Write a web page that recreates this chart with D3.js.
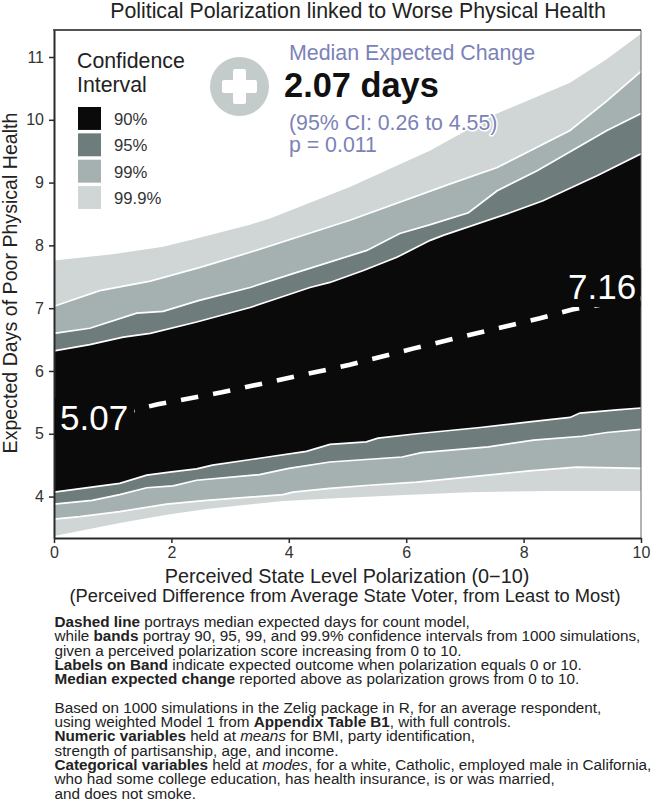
<!DOCTYPE html>
<html>
<head>
<meta charset="utf-8">
<script src="https://cdn.jsdelivr.net/npm/d3@7"></script>
<style>
  html, body { margin: 0; padding: 0; background: #fff; }
  text { font-family: "Liberation Sans", Arial, sans-serif; }
</style>
</head>
<body>
<div id="chart"></div>
<script>
// band edges, as [polarization, expected days]
const upper999 = [[0,7.76],[1,7.86],[1.86,7.98],[2.43,8.11],[3.34,8.33],[3.68,8.43],[5.04,8.93],[6.41,9.51],[7.55,10.1],[8.79,10.59],[9.42,10.97],[10,11.37]];
const upper99 = [[0,7.03],[0.78,7.28],[1.64,7.43],[2.49,7.65],[3.34,7.89],[5.04,8.4],[6.75,8.98],[7.55,9.24],[8.79,9.83],[9.42,10.3],[10,10.77]];
const upper95 = [[0,6.6],[0.61,6.68],[1.41,6.92],[1.86,6.95],[2.46,7.12],[3.34,7.33],[4.07,7.55],[5.33,7.92],[5.89,8.19],[6.41,8.33],[7.06,8.52],[7.55,8.87],[8.23,9.19],[9.42,9.83],[10,10.1]];
const upper90 = [[0,6.32],[0.61,6.42],[1.18,6.54],[1.64,6.6],[2.43,6.78],[3.34,7.01],[3.85,7.17],[4.36,7.33],[4.7,7.41],[5.27,7.6],[5.84,7.81],[6.41,8.08],[6.63,8.16],[7.77,8.52],[8.33,8.71],[9.25,9.11],[10,9.46]];
const lower90 = [[0,4.07],[1.12,4.21],[1.58,4.34],[1.97,4.39],[2.43,4.44],[2.7,4.5],[3.5,4.61],[4.3,4.72],[4.7,4.83],[5.32,4.87],[5.52,4.93],[6.18,5],[7.26,5.1],[8.1,5.19],[8.79,5.26],[8.96,5.33],[9.59,5.38],[10,5.41]];
const lower95 = [[0,3.88],[0.65,3.94],[1.12,4.03],[1.58,4.14],[2.03,4.17],[2.43,4.26],[3.5,4.35],[4,4.45],[4.7,4.55],[5.93,4.63],[6.26,4.7],[7.4,4.79],[8.17,4.9],[9,4.96],[9.42,5.02],[10,5.07]];
const lower99 = [[0,3.64],[0.44,3.68],[1.12,3.76],[1.92,3.88],[2.6,3.94],[3.9,4.03],[4.07,4.07],[4.7,4.13],[5.37,4.18],[6.18,4.23],[7.26,4.33],[8.1,4.41],[8.9,4.47],[10,4.45]];
const lower999 = [[0,3.37],[1.12,3.58],[1.92,3.71],[2.6,3.8],[3.9,3.93],[4.7,3.97],[5.88,4.02],[7.06,4.07],[8.45,4.09],[10,4.09]];
const median = [[0,5.07],[1.77,5.47],[2.86,5.66],[3.95,5.88],[5.04,6.1],[6.13,6.36],[7.2,6.6],[8.28,6.84],[8.83,6.98],[10,7.16]];

const bandLabels = ["99.9%", "99%", "95%", "90%"];
const bandColors = ["#cfd6d5", "#a5b1b0", "#6f7c7c", "#0a0a0a"];
const bandUppers = [upper999, upper99, upper95, upper90];
const bandLowers = [lower999, lower99, lower95, lower90];
const xTicks = [0, 2, 4, 6, 8, 10];
const yTicks = [4, 5, 6, 7, 8, 9, 10, 11];

const notes = [
  [["Dashed line", "b"], [" portrays median expected days for count model,"]],
  [["while "], ["bands", "b"], [" portray 90, 95, 99, and 99.9% confidence intervals from 1000 simulations,"]],
  [["given a perceived polarization score increasing from 0 to 10."]],
  [["Labels on Band", "b"], [" indicate expected outcome when polarization equals 0 or 10."]],
  [["Median expected change", "b"], [" reported above as polarization grows from 0 to 10."]],
  [],
  [["Based on 1000 simulations in the Zelig package in R, for an average respondent,"]],
  [["using weighted Model 1 from "], ["Appendix Table B1", "b"], [", with full controls."]],
  [["Numeric variables", "b"], [" held at "], ["means", "i"], [" for BMI, party identification,"]],
  [["strength of partisanship, age, and income."]],
  [["Categorical variables", "b"], [" held at "], ["modes", "i"], [", for a white, Catholic, employed male in California,"]],
  [["who had some college education, has health insurance, is or was married,"]],
  [["and does not smoke."]]
];

const width = 652;
const height = 802;
const margin = {top: 30, bottom: 264, left: 54, right: 11};
const lavender = "#7b82b8";

const svg = d3.select("#chart")
  .append("svg")
  .attr("width", width)
  .attr("height", height)
  .style("display", "block");

const x = d3.scaleLinear()
  .domain([0, 10])
  .range([margin.left, width - margin.right]);

const y = d3.scaleLinear()
  .domain([3.34, 11.43])
  .range([height - margin.bottom, margin.top]);

const line = d3.line().x(d => x(d[0])).y(d => y(d[1]));

svg.append("clipPath").attr("id", "plot")
  .append("rect")
  .attr("x", x(0)).attr("y", y(11.43))
  .attr("width", x(10) - x(0)).attr("height", y(3.34) - y(11.43));

const plot = svg.append("g").attr("clip-path", "url(#plot)");

// outer bands first, inner ones paint over them
bandColors.forEach((c, i) => {
  plot.append("path")
    .attr("d", line(bandUppers[i].concat(bandLowers[i].slice().reverse())) + "Z")
    .attr("fill", c);
});

// white edges, the outermost band has none
[upper99, upper95, upper90, lower90, lower95, lower99].forEach(d => {
  plot.append("path")
    .attr("d", line(d))
    .attr("fill", "none")
    .attr("stroke", "#fff")
    .attr("stroke-width", 1.7);
});

plot.append("path")
  .attr("d", line(median))
  .attr("fill", "none")
  .attr("stroke", "#fff")
  .attr("stroke-width", 4.6)
  .attr("stroke-dasharray", "17.5 15.1");

// frame
svg.append("path")
  .attr("d", `M${x(0)},${y(11.43)}H${x(10)}V${y(3.34)}`)
  .attr("fill", "none")
  .attr("stroke", "#666")
  .attr("stroke-width", 1);
svg.append("line")
  .attr("x1", x(0) - 1).attr("x2", x(10)).attr("y1", y(11.43)).attr("y2", y(11.43))
  .attr("stroke", "#333").attr("stroke-width", 1.5);

function styleAxis(g) {
  g.selectAll(".domain").attr("stroke", "#2a2a2a").attr("stroke-width", 2);
  g.selectAll(".tick line").attr("stroke", "#2a2a2a").attr("stroke-width", 1.5);
  g.selectAll(".tick text").attr("fill", "#333").style("font-size", "16px")
    .style("font-family", '"Liberation Sans", Arial, sans-serif');
}

svg.append("g")
  .attr("transform", `translate(${x(0)},0)`)
  .call(d3.axisLeft(y).tickValues(yTicks).tickFormat(d3.format("d")).tickSize(5).tickSizeOuter(0).tickPadding(5))
  .call(styleAxis);

svg.append("g")
  .attr("transform", `translate(0,${y(3.34)})`)
  .call(d3.axisBottom(x).tickValues(xTicks).tickFormat(d3.format("d")).tickSize(5).tickSizeOuter(0).tickPadding(4))
  .call(styleAxis);

// end labels sit on a black patch that hides the start and end of the dashes
function endLabel(label, px, py, patch) {
  svg.append("rect")
    .attr("x", patch[0]).attr("y", patch[1])
    .attr("width", patch[2]).attr("height", patch[3])
    .attr("fill", "#0a0a0a");
  svg.append("text")
    .attr("x", px).attr("y", py)
    .attr("font-size", 35)
    .attr("fill", "#fff")
    .text(label);
}
endLabel("5.07", 60, 430, [x(0) + 1, 398, 79, 42]);
endLabel("7.16", 568, 299, [566, 268, x(10) - 566.5, 39]);

// titles
svg.append("text").attr("x", 358).attr("y", 17.5).attr("text-anchor", "middle")
  .attr("font-size", 21.3).attr("fill", "#222")
  .text("Political Polarization linked to Worse Physical Health");

svg.append("text")
  .attr("transform", `translate(17,283) rotate(-90)`)
  .attr("text-anchor", "middle").attr("font-size", 19.6).attr("fill", "#222")
  .text("Expected Days of Poor Physical Health");

svg.append("text").attr("x", 347).attr("y", 583).attr("text-anchor", "middle")
  .attr("font-size", 19.8).attr("fill", "#222")
  .text("Perceived State Level Polarization (0\u221210)");
svg.append("text").attr("x", 345).attr("y", 601.5).attr("text-anchor", "middle")
  .attr("font-size", 18.3).attr("fill", "#222")
  .text("(Perceived Difference from Average State Voter, from Least to Most)");

// legend
svg.append("text").attr("x", 77).attr("y", 68).attr("font-size", 21.3).attr("fill", "#222").text("Confidence");
svg.append("text").attr("x", 77).attr("y", 92).attr("font-size", 21.3).attr("fill", "#222").text("Interval");

const legendY = d3.scaleBand()
  .domain(bandLabels.slice().reverse())
  .range([107, 209])
  .paddingInner(0.13);

const legend = svg.append("g")
  .selectAll("g")
  .data(bandLabels.slice().reverse())
  .join("g");
legend.append("rect")
  .attr("x", 78).attr("y", d => legendY(d))
  .attr("width", 23).attr("height", legendY.bandwidth())
  .attr("fill", d => bandColors[bandLabels.indexOf(d)]);
legend.append("text")
  .attr("x", 114).attr("y", d => legendY(d) + legendY.bandwidth() / 2 + 6.5)
  .attr("font-size", 16.7).attr("fill", "#333")
  .text(d => d);

// health cross
svg.append("circle").attr("cx", 239.5).attr("cy", 86.5).attr("r", 29.5).attr("fill", "#c4cccb");
svg.append("rect").attr("x", 222).attr("y", 80).attr("width", 35).attr("height", 13).attr("rx", 2).attr("fill", "#fff");
svg.append("rect").attr("x", 233).attr("y", 69).attr("width", 13).attr("height", 35).attr("rx", 2).attr("fill", "#fff");

// median change block
svg.append("text").attr("x", 289).attr("y", 60).attr("font-size", 21.4).attr("fill", lavender).text("Median Expected Change");
svg.append("text").attr("x", 284).attr("y", 97).attr("font-size", 34.4).attr("font-weight", "bold").attr("fill", "#111").text("2.07 days");
svg.append("text").attr("x", 289).attr("y", 130).attr("font-size", 21.3).attr("fill", lavender)
  .attr("stroke", "#fff").attr("stroke-width", 3).attr("stroke-linejoin", "round").attr("paint-order", "stroke")
  .text("(95% CI: 0.26 to 4.55)");
svg.append("text").attr("x", 289).attr("y", 152).attr("font-size", 21.3).attr("fill", lavender).text("p = 0.011");

// footnotes
const noteY = d3.scaleLinear().domain([0, 12]).range([627, 798.5]);
notes.forEach((parts, i) => {
  const t = svg.append("text").attr("x", 54.5).attr("y", noteY(i))
    .attr("font-size", 15.25).attr("fill", "#222");
  parts.forEach(p => {
    t.append("tspan")
      .attr("font-weight", p[1] === "b" ? "bold" : null)
      .attr("font-style", p[1] === "i" ? "italic" : null)
      .text(p[0]);
  });
});
</script>
</body>
</html>
